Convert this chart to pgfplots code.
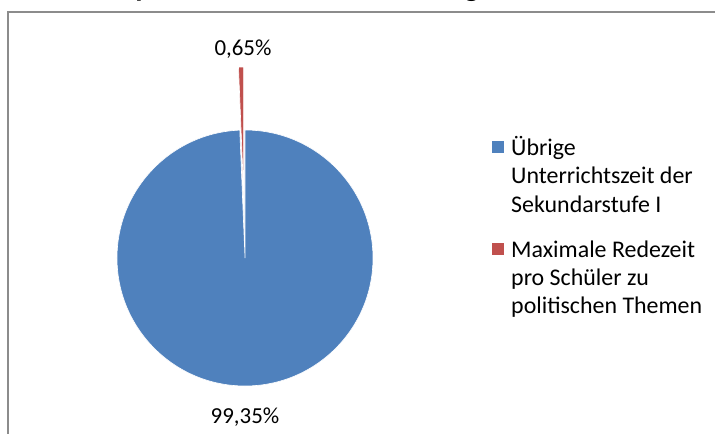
\documentclass[border=0pt]{standalone}
\usepackage{pgfplots}
\pgfplotsset{compat=1.18}
\usepackage{pgfplotstable}
\usepackage{fontspec}
\setmainfont{Carlito}
\usetikzlibrary{calc}

\definecolor{sliceblue}{HTML}{4F81BD}
\definecolor{slicered}{HTML}{C0504D}
\definecolor{framegray}{HTML}{8C8C8C}

% share of the school time, in percent
\pgfplotstableread{
share
99.35
0.65
}\piedata

\begin{document}
\begin{tikzpicture}
\useasboundingbox (0,0) rectangle (715bp,434bp);
\pgfplotstablegetelem{0}{share}\of\piedata
\pgfmathsetmacro\angA{3.6*\pgfplotsretval}
\pgfplotstablegetelem{1}{share}\of\piedata
\pgfmathsetmacro\angB{3.6*\pgfplotsretval}
\pgfmathsetmacro\midB{90+\angB/2}
\pgfmathsetmacro\startB{90+\angB}
\begin{axis}[
  x=1bp, y=1bp,
  xmin=0, xmax=715, ymin=0, ymax=434,
  hide axis, clip=false,
]
% chart frame (cut by the page edge)
\draw[framegray, line width=1.2bp] (axis cs:8,-20) -- (axis cs:8,422) -- (axis cs:740,422);
% title, mostly above the page
\node[font=\bfseries\fontsize{30}{34}\selectfont, anchor=base] at (axis cs:280,437.5)
  {Maximale Redezeit zu politischen Themen in der gesamten Schulzeit};
% slices, clockwise from 12 o'clock
\filldraw[fill=sliceblue, draw=white, line width=0.6bp]
  (axis cs:245,176) -- ++(90:128bp) arc[start angle=90, delta angle=-\angA, radius=128bp] -- cycle;
\filldraw[fill=slicered, draw=white, line width=0.6bp]
  ($(axis cs:245,176)+(\midB:63bp)$) -- ++(\startB:128bp)
  arc[start angle=\startB, delta angle=-\angB, radius=128bp] -- cycle;
% data labels
\node[font=\fontsize{23}{26}\selectfont, anchor=base] at (axis cs:243,379) {0,65\%};
\node[font=\fontsize{23}{26}\selectfont, anchor=base] at (axis cs:245,11) {99,35\%};
% legend
\fill[sliceblue] (axis cs:492,281) rectangle (axis cs:504,293);
\fill[slicered] (axis cs:492,179) rectangle (axis cs:504,191);
\begin{scope}[every node/.style={font=\fontsize{24}{28}\selectfont, anchor=base west, inner sep=0pt}]
\node at (axis cs:511,279) {Übrige};
\node at (axis cs:511,251) {Unterrichtszeit der};
\node at (axis cs:511,222) {Sekundarstufe I};
\node at (axis cs:511,177) {Maximale Redezeit};
\node at (axis cs:511,149) {pro Schüler zu};
\node at (axis cs:511,121) {politischen Themen};
\end{scope}
\end{axis}
\end{tikzpicture}
\end{document}
